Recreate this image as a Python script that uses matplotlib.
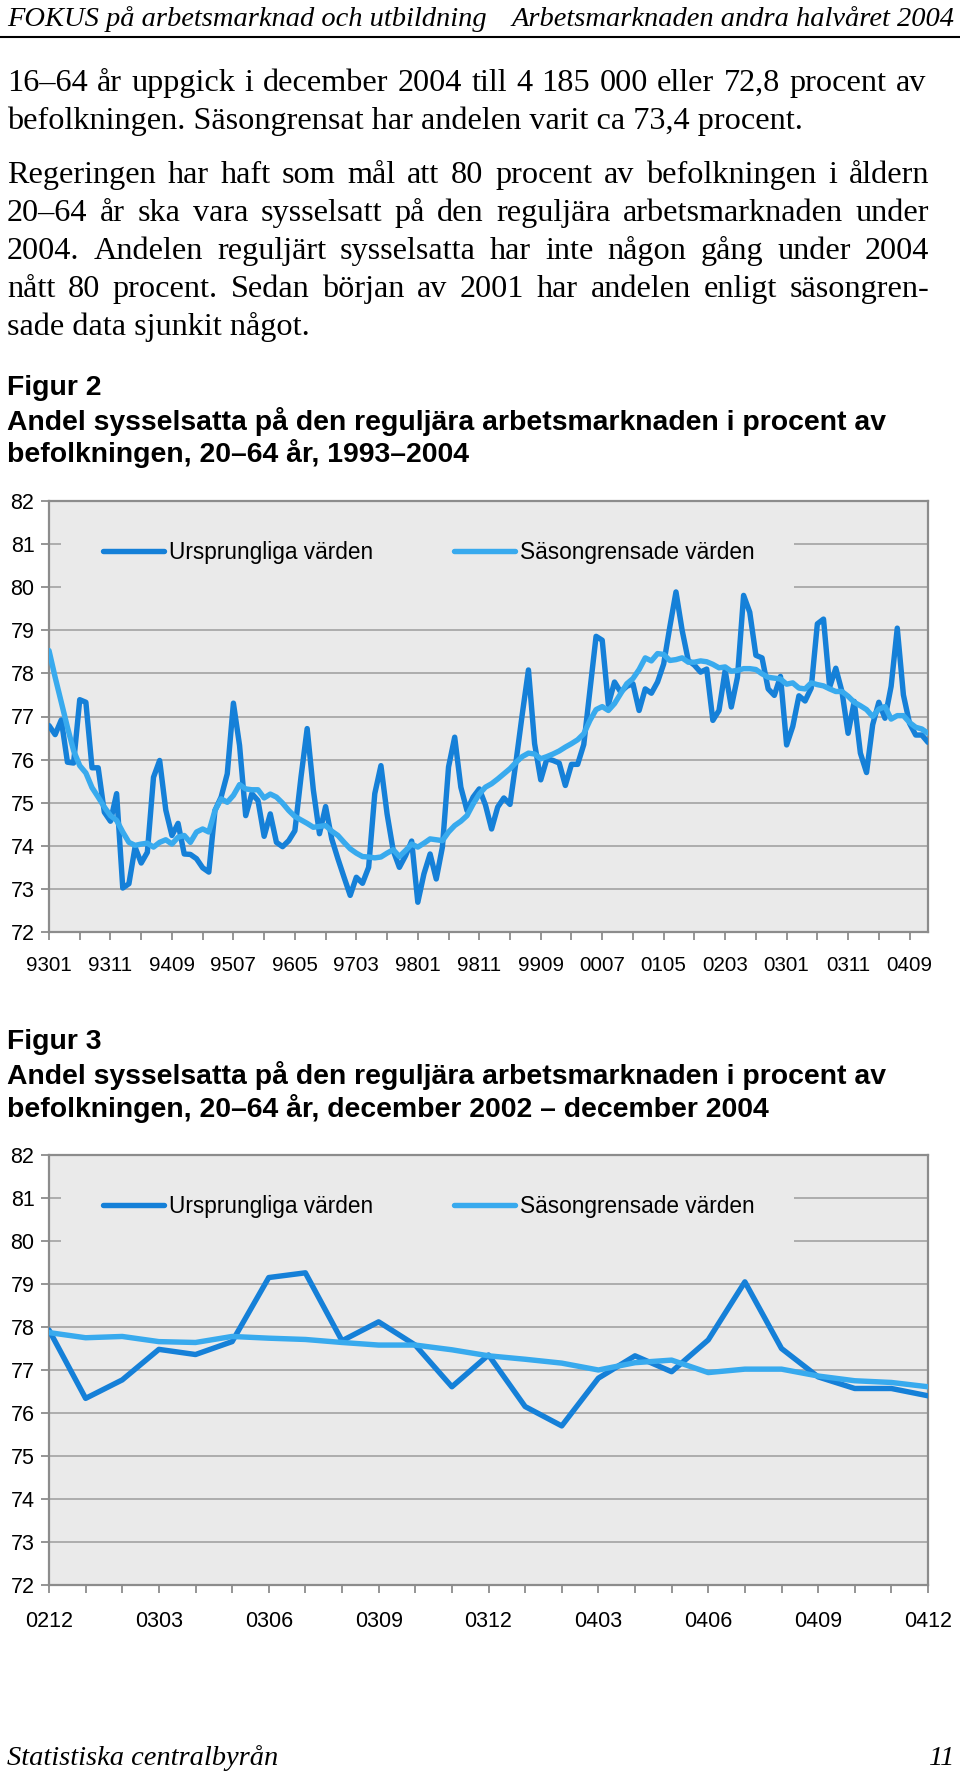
import matplotlib.pyplot as plt
from matplotlib.patches import Rectangle

W, H = 960, 1773

# Figur 2: månadsvärden januari 1993 - december 2004
manader_93_04 = [f"{ar % 100:02d}{m:02d}" for ar in range(1993, 2005) for m in range(1, 13)]
ursprungliga_93_04 = [
    76.79, 76.58, 76.92, 75.94, 75.92, 77.39, 77.33, 75.81, 75.81, 74.78, 74.57, 75.21,
    73.02, 73.12, 73.97, 73.60, 73.85, 75.59, 75.98, 74.83, 74.24, 74.52, 73.81, 73.80,
    73.70, 73.49, 73.39, 74.82, 75.13, 75.67, 77.31, 76.33, 74.70, 75.21, 75.05, 74.22,
    74.74, 74.08, 73.98, 74.12, 74.35, 75.60, 76.72, 75.30, 74.28, 74.91, 74.16, 73.70,
    73.27, 72.85, 73.27, 73.13, 73.50, 75.21, 75.86, 74.74, 73.89, 73.50, 73.77, 74.11,
    72.69, 73.35, 73.81, 73.23, 73.97, 75.83, 76.52, 75.36, 74.82, 75.13, 75.32, 74.95,
    74.39, 74.90, 75.11, 74.96, 75.98, 77.06, 78.08, 76.37, 75.53, 76.02, 75.98, 75.92,
    75.40, 75.89, 75.89, 76.35, 77.60, 78.86, 78.77, 77.28, 77.80, 77.57, 77.70, 77.76,
    77.14, 77.64, 77.54, 77.80, 78.22, 79.08, 79.89, 79.00, 78.30, 78.19, 78.03, 78.10,
    76.91, 77.14, 78.07, 77.22, 77.91, 79.81, 79.42, 78.42, 78.36, 77.64, 77.49, 77.93,
    76.34, 76.77, 77.48, 77.36, 77.66, 79.15, 79.26, 77.68, 78.12, 77.58, 76.61, 77.35,
    76.15, 75.70, 76.81, 77.33, 76.96, 77.70, 79.05, 77.50, 76.84, 76.57, 76.57, 76.40]
sasongrensade_93_04 = [
    78.53, 77.91, 77.33, 76.75, 76.21, 75.86, 75.69, 75.35, 75.13, 74.90, 74.70, 74.59,
    74.32, 74.08, 74.01, 74.04, 74.06, 73.97, 74.08, 74.14, 74.04, 74.20, 74.24, 74.08,
    74.32, 74.39, 74.32, 74.82, 75.09, 75.01, 75.17, 75.42, 75.32, 75.30, 75.30, 75.11,
    75.20, 75.13, 74.99, 74.82, 74.68, 74.60, 74.52, 74.43, 74.45, 74.47, 74.34, 74.24,
    74.08, 73.93, 73.83, 73.75, 73.74, 73.72, 73.74, 73.83, 73.91, 73.75, 73.89, 74.04,
    73.97, 74.06, 74.16, 74.14, 74.12, 74.32, 74.47, 74.57, 74.70, 74.97, 75.20, 75.36,
    75.44, 75.55, 75.67, 75.79, 75.94, 76.07, 76.15, 76.13, 76.02, 76.07, 76.13, 76.20,
    76.29, 76.37, 76.46, 76.60, 76.91, 77.16, 77.23, 77.14, 77.30, 77.53, 77.76, 77.88,
    78.09, 78.36, 78.29, 78.46, 78.44, 78.30, 78.32, 78.36, 78.26, 78.26, 78.29, 78.27,
    78.21, 78.13, 78.15, 78.05, 78.07, 78.11, 78.11, 78.09, 77.99, 77.91, 77.89, 77.87,
    77.75, 77.78, 77.66, 77.64, 77.78, 77.74, 77.71, 77.64, 77.58, 77.58, 77.47, 77.33,
    77.25, 77.16, 77.00, 77.17, 77.23, 76.94, 77.02, 77.02, 76.86, 76.75, 76.71, 76.61]

# Figur 3: december 2002 - december 2004
manader_02_04 = ['0212', '0301', '0302', '0303', '0304', '0305', '0306', '0307', '0308',
                 '0309', '0310', '0311', '0312', '0401', '0402', '0403', '0404', '0405',
                 '0406', '0407', '0408', '0409', '0410', '0411', '0412']
ursprungliga_02_04 = [77.93, 76.34, 76.77, 77.48, 77.36, 77.66, 79.15, 79.26, 77.68, 78.12,
                      77.58, 76.61, 77.35, 76.15, 75.70, 76.81, 77.33, 76.96, 77.70, 79.05,
                      77.50, 76.84, 76.57, 76.57, 76.40]
sasongrensade_02_04 = [77.87, 77.75, 77.78, 77.66, 77.64, 77.78, 77.74, 77.71, 77.64, 77.58,
                       77.58, 77.47, 77.33, 77.25, 77.16, 77.00, 77.17, 77.23, 76.94, 77.02,
                       77.02, 76.86, 76.75, 76.71, 76.61]

serier = ['Ursprungliga värden', 'Säsongrensade värden']
farger = ['#1580d8', '#38aaee']
bakgrund = '#eaeaea'
gra = '#8c8c8c'
smal = ['Liberation Sans Narrow', 'Liberation Sans']

fig = plt.figure(figsize=(W / 100, H / 100), dpi=100)


def fy(y):
    return 1 - y / H


def justera(text, y, x0, x1, **kw):
    # rad med marginaljustering: ord placeras ut med lika stora mellanrum
    ord_ = text.split(' ')
    r = fig.canvas.get_renderer()
    objs = [fig.text(0, fy(y), o, **kw) for o in ord_]
    bredd = [t.get_window_extent(r).width for t in objs]
    gap = (x1 - x0 - sum(bredd)) / (len(ord_) - 1)
    x = x0
    for t, b in zip(objs, bredd):
        t.set_x(x / W)
        x += b + gap


# sidhuvud
serif = dict(family='Liberation Serif', color='black')
fig.text(7 / W, fy(26), 'FOKUS på arbetsmarknad och utbildning', fontsize=20.5, style='italic', **serif)
fig.text(955 / W, fy(26), 'Arbetsmarknaden andra halvåret 2004', fontsize=20.5, style='italic',
         ha='right', **serif)
fig.add_artist(plt.Line2D([0, 1], [fy(37), fy(37)], color='black', lw=1.5))

# brödtext
brod = dict(fontsize=23.2, **serif)
justera('16–64 år uppgick i december 2004 till 4 185 000 eller 72,8 procent av', 91, 7, 926, **brod)
fig.text(7 / W, fy(129), 'befolkningen. Säsongrensat har andelen varit ca 73,4 procent.', **brod)
rader = ['Regeringen har haft som mål att 80 procent av befolkningen i åldern',
         '20–64 år ska vara sysselsatt på den reguljära arbetsmarknaden under',
         '2004. Andelen reguljärt sysselsatta har inte någon gång under 2004',
         'nått 80 procent. Sedan början av 2001 har andelen enligt säsongren-']
for k, rad in enumerate(rader):
    justera(rad, 183 + 38 * k, 7, 929, **brod)
fig.text(7 / W, fy(335), 'sade data sjunkit något.', **brod)

# sidfot
fig.text(7 / W, fy(1765), 'Statistiska centralbyrån', fontsize=20.5, style='italic', **serif)
fig.text(955 / W, fy(1765), '11', fontsize=20.5, style='italic', ha='right', **serif)

rubrik = dict(family='Liberation Sans', fontweight='bold', fontsize=20.4)
fig.text(7 / W, fy(395), 'Figur 2', **rubrik)
fig.text(7 / W, fy(430), 'Andel sysselsatta på den reguljära arbetsmarknaden i procent av', **rubrik)
fig.text(7 / W, fy(462), 'befolkningen, 20–64 år, 1993–2004', **rubrik)
fig.text(7 / W, fy(1049), 'Figur 3', **rubrik)
fig.text(7 / W, fy(1084), 'Andel sysselsatta på den reguljära arbetsmarknaden i procent av', **rubrik)
fig.text(7 / W, fy(1117), 'befolkningen, 20–64 år, december 2002 – december 2004', **rubrik)


def diagram(topp, botten, kategorier, urspr, sasong, steg_etikett, steg_streck, xsize, xpad):
    ax = fig.add_axes([49 / W, fy(botten), 879 / W, (botten - topp) / H])
    ax.set_facecolor(bakgrund)
    x = range(len(kategorier))
    ax.plot(x, urspr, color=farger[0], lw=3.9, label=serier[0],
            solid_joinstyle='round', solid_capstyle='round', zorder=3)
    ax.plot(x, sasong, color=farger[1], lw=3.9, label=serier[1],
            solid_joinstyle='round', solid_capstyle='round', zorder=4)
    ax.set_xlim(0, len(kategorier) - 1)
    ax.set_ylim(72, 82)
    ax.set_yticks(range(72, 83))
    ax.set_yticklabels([str(v) for v in range(72, 83)], fontsize=15.5, family=smal)
    major = list(x)[::steg_etikett]
    ax.set_xticks(major)
    ax.set_xticklabels([kategorier[i] for i in major], fontsize=xsize, family=smal)
    ax.set_xticks([i for i in x if i % steg_streck == 0 and i not in major], minor=True)
    ax.yaxis.grid(True, color='#a3a3a3', lw=1.2)
    ax.set_axisbelow(True)
    for s in ax.spines.values():
        s.set_color(gra)
        s.set_linewidth(1.6)
    ax.tick_params(axis='both', which='both', direction='out', color=gra, width=1.3)
    ax.tick_params(axis='y', length=6, pad=4.5)
    ax.tick_params(axis='x', which='both', length=6, pad=xpad)
    # legendens bakgrund täcker stödlinjerna
    ax.add_patch(Rectangle((0.0137, 0.765), 0.834, 0.235, transform=ax.transAxes,
                           facecolor=bakgrund, edgecolor='none', zorder=1))
    ax.legend(loc='center left', bbox_to_anchor=(0.0614, 0.88), ncol=2, frameon=False,
              borderpad=0, borderaxespad=0, handlelength=2.7, handletextpad=0.2,
              columnspacing=3.6, prop={'family': 'Liberation Sans', 'size': 16.3})
    return ax


diagram(501, 932, manader_93_04, ursprungliga_93_04, sasongrensade_93_04, 10, 5, 14.8, 11)
diagram(1155, 1585, manader_02_04, ursprungliga_02_04, sasongrensade_02_04, 3, 1, 15.5, 12.5)

fig.savefig('out.png', dpi=100)
